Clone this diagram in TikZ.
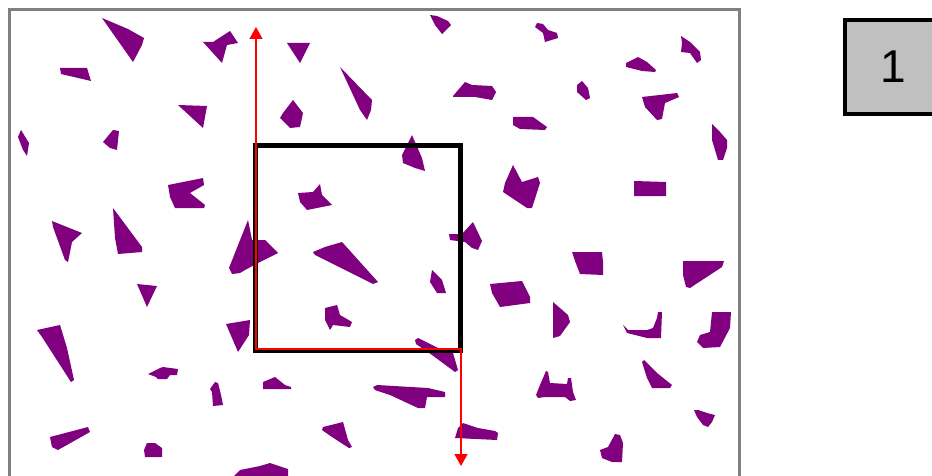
\documentclass[tikz,border=0pt]{standalone}
\usepackage{fontspec}
\newfontfamily\labelfont{Liberation Sans}
\usetikzlibrary{arrows.meta}
\definecolor{piecepurple}{HTML}{800080}
\definecolor{framegray}{RGB}{128,128,128}
\definecolor{boxgray}{RGB}{192,192,192}
\definecolor{pathred}{RGB}{255,0,0}

\begin{document}
\begin{tikzpicture}[x=1pt,y=-1pt,>=Stealth,
  piece/.style={fill=piecepurple},
  frame/.style={draw=framegray,line width=3pt},
  window/.style={draw=black,line width=4.5pt},
  route/.style={draw=pathred,line width=1.6pt,{Triangle[length=12pt,width=13pt]}-{Triangle[length=12pt,width=13pt]}},
  numbox/.style={draw=black,fill=boxgray,line width=4.5pt,minimum width=96pt,minimum height=94pt,inner sep=0pt,font=\labelfont\fontsize{46}{50}\selectfont}]
\useasboundingbox (0,0) rectangle (932,476);
\clip (0,0) rectangle (932,476);
\fill[white] (0,0) rectangle (932,476);
\draw[frame] (9.5,9.5) rectangle (739.5,490);
\fill[piece] (102,18) -- (128,29) -- (144,38) -- (142,45) -- (133,62) -- cycle;
\fill[piece] (203,42) -- (213,42) -- (230,31) -- (238,43) -- (227,45) -- (222,63) -- cycle;
\fill[piece] (60,68) -- (87,68) -- (91,81) -- (61,74) -- cycle;
\fill[piece] (178,105) -- (207,106) -- (203,128) -- cycle;
\fill[piece] (21,130) -- (29,143) -- (27,156) -- (23,150) -- (18,137) -- cycle;
\fill[piece] (113,130) -- (119,131) -- (117,150) -- (110,148) -- (103,142) -- cycle;
\fill[piece] (287,43) -- (310,43) -- (300,63) -- cycle;
\fill[piece] (430,15) -- (437,16) -- (448,21) -- (451,25) -- (442,34) -- (435,25) -- cycle;
\fill[piece] (340,67) -- (372,100) -- (371,110) -- (367,120) -- (360,110) -- cycle;
\fill[piece] (293,100) -- (303,113) -- (300,127) -- (290,128) -- (280,118) -- (283,113) -- cycle;
\fill[piece] (453,96) -- (465,82) -- (472,85) -- (492,86) -- (496,92) -- (492,100) -- (475,97) -- (453,97) -- cycle;
\fill[piece] (412,135) -- (422,158) -- (425,171) -- (415,168) -- (403,163) -- (402,155) -- cycle;
\fill[piece] (537,23) -- (543,24) -- (548,30) -- (557,33) -- (558,38) -- (545,42) -- (543,33) -- (535,27) -- cycle;
\fill[piece] (681,36) -- (690,42) -- (700,52) -- (701,60) -- (697,63) -- (690,53) -- (681,52) -- (682,43) -- cycle;
\fill[piece] (626,63) -- (638,57) -- (647,62) -- (656,70) -- (655,72) -- (642,71) -- (626,67) -- cycle;
\fill[piece] (582,81) -- (588,88) -- (590,98) -- (586,100) -- (577,92) -- (577,85) -- cycle;
\fill[piece] (642,97) -- (677,93) -- (679,97) -- (665,103) -- (662,119) -- (657,120) -- (645,107) -- cycle;
\fill[piece] (513,117) -- (533,117) -- (547,127) -- (545,130) -- (520,129) -- (513,125) -- cycle;
\fill[piece] (712,124) -- (720,132) -- (727,140) -- (727,148) -- (723,160) -- (718,160) -- (712,140) -- cycle;
\fill[piece] (168,185) -- (203,178) -- (204,185) -- (190,193) -- (205,205) -- (204,208) -- (175,208) -- (170,197) -- cycle;
\fill[piece] (52,221) -- (82,233) -- (72,242) -- (68,262) -- (65,260) -- (53,227) -- cycle;
\fill[piece] (113,208) -- (142,247) -- (142,252) -- (118,254) -- (115,238) -- cycle;
\fill[piece] (248,220) -- (252,240) -- (265,240) -- (278,253) -- (260,262) -- (245,270) -- (240,273) -- (232,274) -- (229,268) -- cycle;
\fill[piece] (137,284) -- (157,286) -- (147,307) -- cycle;
\fill[piece] (298,193) -- (313,192) -- (320,184) -- (322,195) -- (332,205) -- (317,208) -- (307,210) -- (300,202) -- cycle;
\fill[piece] (313,252) -- (325,247) -- (342,242) -- (378,282) -- (373,284) -- (315,255) -- cycle;
\fill[piece] (449,234) -- (462,234) -- (473,222) -- (482,241) -- (478,250) -- (472,248) -- (465,242) -- (450,240) -- cycle;
\fill[piece] (432,270) -- (442,280) -- (446,293) -- (437,293) -- (430,282) -- cycle;
\fill[piece] (325,308) -- (337,305) -- (340,315) -- (352,322) -- (350,327) -- (333,325) -- (330,330) -- (325,320) -- cycle;
\fill[piece] (513,165) -- (522,182) -- (538,177) -- (540,183) -- (532,208) -- (527,208) -- (503,192) -- (505,183) -- cycle;
\fill[piece] (634,181) -- (666,182) -- (666,196) -- (634,196) -- cycle;
\fill[piece] (572,252) -- (602,252) -- (603,262) -- (603,275) -- (580,274) -- (575,261) -- cycle;
\fill[piece] (683,261) -- (724,261) -- (722,267) -- (690,288) -- (686,287) -- (683,275) -- cycle;
\fill[piece] (490,284) -- (522,281) -- (530,297) -- (530,303) -- (500,307) -- (492,293) -- cycle;
\fill[piece] (553,302) -- (568,315) -- (570,322) -- (560,336) -- (553,338) -- cycle;
\fill[piece] (623,325) -- (628,330) -- (647,330) -- (653,328) -- (657,318) -- (658,312) -- (662,312) -- (661,338) -- (647,338) -- (627,333) -- cycle;
\fill[piece] (712,312) -- (731,312) -- (730,328) -- (720,347) -- (703,348) -- (697,342) -- (700,335) -- (710,332) -- cycle;
\fill[piece] (37,330) -- (60,325) -- (67,348) -- (74,380) -- (71,382) -- (42,337) -- cycle;
\fill[piece] (226,324) -- (250,320) -- (249,335) -- (238,352) -- cycle;
\fill[piece] (148,374) -- (160,368) -- (163,367) -- (178,369) -- (177,375) -- (170,375) -- (167,379) -- (158,379) -- (156,377) -- cycle;
\fill[piece] (215,382) -- (218,383) -- (221,395) -- (223,405) -- (213,406) -- (212,392) -- (210,389) -- cycle;
\fill[piece] (50,437) -- (88,427) -- (90,432) -- (58,450) -- (52,447) -- cycle;
\fill[piece] (147,443) -- (155,443) -- (162,448) -- (162,457) -- (145,457) -- (144,450) -- cycle;
\fill[piece] (232,478) -- (240,470) -- (260,466) -- (270,463) -- (288,469) -- (288,478) -- cycle;
\fill[piece] (415,340) -- (418,338) -- (438,348) -- (453,353) -- (458,370) -- (455,372) -- (432,355) -- (416,344) -- cycle;
\fill[piece] (263,382) -- (275,377) -- (285,385) -- (291,387) -- (291,389) -- (263,389) -- cycle;
\fill[piece] (373,387) -- (377,385) -- (428,388) -- (445,392) -- (445,397) -- (427,397) -- (425,408) -- (418,408) -- (390,395) -- (375,390) -- cycle;
\fill[piece] (323,427) -- (343,422) -- (348,440) -- (352,447) -- (349,448) -- (332,437) -- (322,430) -- cycle;
\fill[piece] (455,438) -- (458,428) -- (463,423) -- (478,428) -- (495,431) -- (498,433) -- (497,440) -- cycle;
\fill[piece] (536,395) -- (540,385) -- (546,371) -- (548,372) -- (550,383) -- (567,384) -- (568,378) -- (571,378) -- (573,392) -- (576,400) -- (570,401) -- (565,397) -- (545,397) -- (538,398) -- cycle;
\fill[piece] (642,362) -- (644,360) -- (657,373) -- (672,385) -- (670,388) -- (652,388) -- (647,378) -- cycle;
\fill[piece] (694,410) -- (698,410) -- (707,413) -- (715,415) -- (712,422) -- (708,427) -- (703,425) -- (697,417) -- cycle;
\fill[piece] (615,434) -- (620,435) -- (623,443) -- (622,462) -- (612,462) -- (602,458) -- (600,450) -- (608,447) -- cycle;
\draw[window] (255.5,145.5) rectangle (460.5,350.5);
\coordinate (upEnd) at (256,27);
\coordinate (bendLeft) at (256,349);
\coordinate (bendRight) at (461,349);
\coordinate (downEnd) at (461,466);
\draw[route] (upEnd) -- (bendLeft) -- (bendRight) -- (downEnd);
\node[numbox] (pageNum) at (893,67) {\raisebox{-2.5pt}{1}};
\end{tikzpicture}
\end{document}
